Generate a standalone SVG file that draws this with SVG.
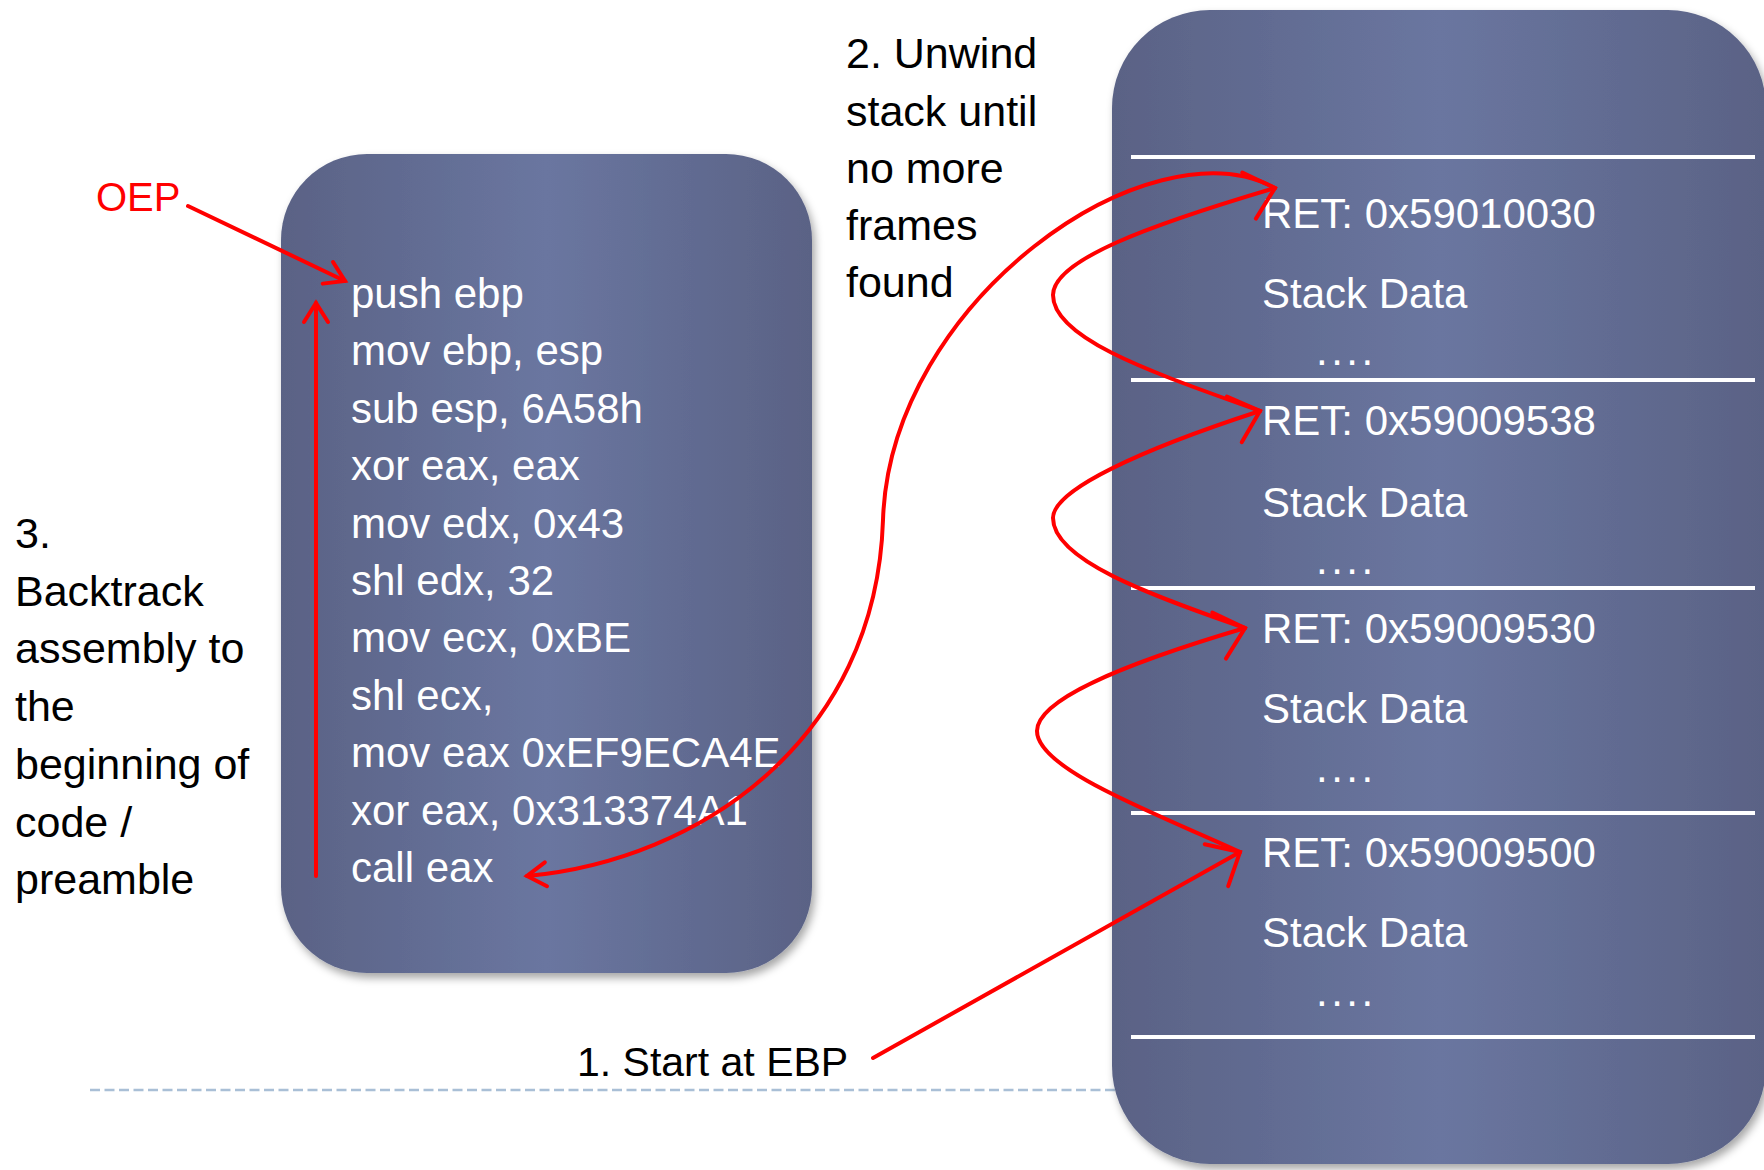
<svg xmlns="http://www.w3.org/2000/svg" width="1764" height="1170" viewBox="0 0 1764 1170">
  <style>
    .box { fill: url(#boxGrad); filter: url(#shadow); }
    .wt { font-family: "Liberation Sans", Arial, sans-serif; font-size: 42px; fill: #ffffff; }
    .bt { font-family: "Liberation Sans", Arial, sans-serif; font-size: 43px; fill: #000000; }
    .rt { font-family: "Liberation Sans", Arial, sans-serif; font-size: 40px; fill: #ff0000; }
    .dots { letter-spacing: 3.5px; }
    .sep { stroke: #ffffff; stroke-width: 4; }
    .conn { fill: none; stroke: #ff0000; stroke-width: 4; stroke-linecap: round; stroke-linejoin: round; }
    .dash { stroke: #a9bfd6; stroke-width: 2.5; stroke-dasharray: 10 4.5; fill: none; }
  </style>
  <defs>
    <linearGradient id="boxGrad" x1="0" y1="0" x2="1" y2="0">
      <stop offset="0" stop-color="#5a6285"/>
      <stop offset="0.5" stop-color="#6a76a0"/>
      <stop offset="1" stop-color="#5a6285"/>
    </linearGradient>
    <filter id="shadow" x="-10%" y="-10%" width="120%" height="120%">
      <feDropShadow dx="3" dy="5" stdDeviation="4" flood-color="#000000" flood-opacity="0.35"/>
    </filter>
    <marker id="arrowBig" markerUnits="userSpaceOnUse" viewBox="-34 -30 40 60" refX="0" refY="0" markerWidth="40" markerHeight="60" orient="auto" overflow="visible">
      <path d="M-27,-24 L0,0 L-27,24" fill="none" stroke="#ff0000" stroke-width="4" stroke-linecap="round" stroke-linejoin="miter"/>
    </marker>
    <marker id="arrowSmall" markerUnits="userSpaceOnUse" viewBox="-24 -16 28 32" refX="0" refY="0" markerWidth="28" markerHeight="32" orient="auto" overflow="visible">
      <path d="M-19,-12 L0,0 L-19,12" fill="none" stroke="#ff0000" stroke-width="4" stroke-linecap="round" stroke-linejoin="miter"/>
    </marker>
  </defs>

  <rect width="1764" height="1170" fill="#ffffff"/>

  <!-- separator dashed line -->
  <line class="dash" x1="90" y1="1090" x2="1120" y2="1090"/>

  <!-- code box -->
  <g id="code-box">
    <rect class="box" x="281" y="154" width="531" height="819" rx="86" ry="86"/>
    <text class="wt" x="351" y="308">push ebp</text>
    <text class="wt" x="351" y="365.4">mov ebp, esp</text>
    <text class="wt" x="351" y="422.8">sub esp, 6A58h</text>
    <text class="wt" x="351" y="480.2">xor eax, eax</text>
    <text class="wt" x="351" y="537.6">mov edx, 0x43</text>
    <text class="wt" x="351" y="595">shl edx, 32</text>
    <text class="wt" x="351" y="652.4">mov ecx, 0xBE</text>
    <text class="wt" x="351" y="709.8">shl ecx,</text>
    <text class="wt" x="351" y="767.2">mov eax 0xEF9ECA4E</text>
    <text class="wt" x="351" y="824.6">xor eax, 0x313374A1</text>
    <text class="wt" x="351" y="882">call eax</text>
  </g>

  <!-- stack box -->
  <g id="stack-box">
    <rect class="box" x="1112" y="10" width="654" height="1154" rx="98" ry="98"/>
    <line class="sep" x1="1131" y1="157" x2="1755" y2="157"/>
    <line class="sep" x1="1131" y1="380" x2="1755" y2="380"/>
    <line class="sep" x1="1131" y1="588" x2="1755" y2="588"/>
    <line class="sep" x1="1131" y1="813" x2="1755" y2="813"/>
    <line class="sep" x1="1131" y1="1037" x2="1755" y2="1037"/>
    <g id="frame-1">
      <text class="wt" x="1262" y="228">RET: 0x59010030</text>
      <text class="wt" x="1262" y="308">Stack Data</text>
      <text class="wt dots" x="1316" y="365">....</text>
    </g>
    <g id="frame-2">
      <text class="wt" x="1262" y="435">RET: 0x59009538</text>
      <text class="wt" x="1262" y="517">Stack Data</text>
      <text class="wt dots" x="1316" y="574">....</text>
    </g>
    <g id="frame-3">
      <text class="wt" x="1262" y="643">RET: 0x59009530</text>
      <text class="wt" x="1262" y="723">Stack Data</text>
      <text class="wt dots" x="1316" y="782">....</text>
    </g>
    <g id="frame-4">
      <text class="wt" x="1262" y="867">RET: 0x59009500</text>
      <text class="wt" x="1262" y="947">Stack Data</text>
      <text class="wt dots" x="1316" y="1006">....</text>
    </g>
  </g>

  <!-- labels -->
  <g id="oep-label">
    <text class="rt" x="96" y="211">OEP</text>
  </g>
  <g id="step2-label">
    <text class="bt" x="846" y="68">2. Unwind</text>
    <text class="bt" x="846" y="125.5">stack until</text>
    <text class="bt" x="846" y="183">no more</text>
    <text class="bt" x="846" y="240">frames</text>
    <text class="bt" x="846" y="297">found</text>
  </g>
  <g id="step3-label">
    <text class="bt" x="15" y="548">3.</text>
    <text class="bt" x="15" y="605.7">Backtrack</text>
    <text class="bt" x="15" y="663.4">assembly to</text>
    <text class="bt" x="15" y="721">the</text>
    <text class="bt" x="15" y="778.8">beginning of</text>
    <text class="bt" x="15" y="836.5">code /</text>
    <text class="bt" x="15" y="894">preamble</text>
  </g>
  <g id="step1-label">
    <text class="bt" x="577" y="1076" style="font-size:41px">1. Start at EBP</text>
  </g>

  <!-- connectors -->
  <g id="connectors">
    <path class="conn" d="M188,206 L345,281" marker-end="url(#arrowSmall)"/>
    <path class="conn" d="M316,876 L316,303" marker-end="url(#arrowSmall)"/>
    <path class="conn" d="M873,1058 L1240,852" marker-end="url(#arrowBig)"/>
    <path class="conn" d="M1240,852 C1160,815 1037,770 1037,731 C1037,700 1120,665 1245,628" marker-end="url(#arrowBig)"/>
    <path class="conn" d="M1245,628 C1150,595 1053,560 1053,518 C1053,490 1140,450 1260,411" marker-end="url(#arrowBig)"/>
    <path class="conn" d="M1260,411 C1160,375 1053,340 1053,295 C1053,260 1150,225 1275,188" marker-end="url(#arrowBig)"/>
    <path class="conn" d="M1275,188 C1150,120 890,300 883,520 C876,740 700,860 527,876" marker-end="url(#arrowSmall)"/>
  </g>
</svg>
